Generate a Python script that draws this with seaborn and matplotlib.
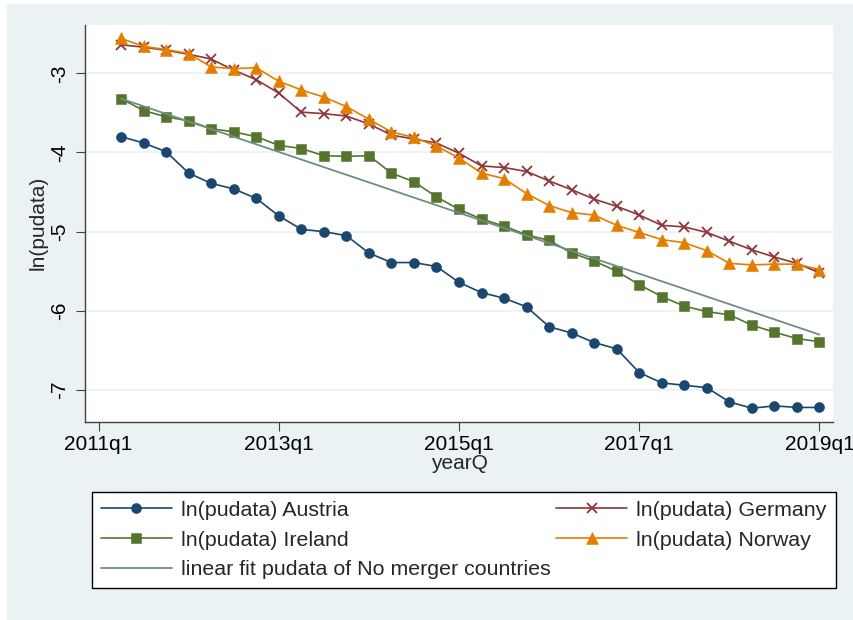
import numpy as np
import pandas as pd
import matplotlib
matplotlib.use("Agg")
import matplotlib.pyplot as plt
from matplotlib.patches import Rectangle
import seaborn as sns

# quarters 2011q2 .. 2019q1
years = [2011 + (q // 4) for q in range(1, 33)]
quarters = [f"{y}q{(q % 4) + 1}" for y, q in zip(years, range(1, 33))]
t = np.arange(1, 33)

austria = [-3.80, -3.88, -3.99, -4.26, -4.39, -4.46, -4.58, -4.80, -4.97, -5.00, -5.05,
           -5.27, -5.39, -5.39, -5.44, -5.64, -5.77, -5.84, -5.95, -6.20, -6.28, -6.40,
           -6.48, -6.78, -6.91, -6.94, -6.97, -7.15, -7.23, -7.20, -7.22, -7.22]
germany = [-2.64, -2.67, -2.71, -2.76, -2.82, -2.96, -3.08, -3.25, -3.49, -3.51, -3.54,
           -3.64, -3.78, -3.83, -3.88, -4.01, -4.17, -4.19, -4.24, -4.36, -4.47, -4.59,
           -4.68, -4.79, -4.92, -4.94, -5.01, -5.12, -5.23, -5.32, -5.40, -5.52]
ireland = [-3.32, -3.47, -3.55, -3.60, -3.70, -3.74, -3.80, -3.91, -3.95, -4.04, -4.05,
           -4.04, -4.26, -4.37, -4.56, -4.72, -4.84, -4.93, -5.04, -5.11, -5.27, -5.37,
           -5.50, -5.67, -5.82, -5.94, -6.01, -6.05, -6.18, -6.27, -6.35, -6.39]
norway = [-2.56, -2.66, -2.70, -2.75, -2.92, -2.94, -2.93, -3.10, -3.21, -3.30, -3.42,
          -3.58, -3.74, -3.81, -3.92, -4.07, -4.26, -4.33, -4.52, -4.67, -4.76, -4.79,
          -4.92, -5.01, -5.10, -5.14, -5.24, -5.40, -5.42, -5.41, -5.41, -5.48]

# linear fit of the no-merger group, endpoints
fit_t = [1, 32]
fit_y = [-3.32, -6.30]

xtick_pos = [0, 8, 16, 24, 32]
xtick_labels = ["2011q1", "2013q1", "2015q1", "2017q1", "2019q1"]
ytick_pos = [-3, -4, -5, -6, -7]

df = pd.DataFrame({"t": t, "quarter": quarters, "Austria": austria, "Germany": germany,
                   "Ireland": ireland, "Norway": norway})
df_fit = pd.DataFrame({"t": fit_t, "fit": fit_y})

sns.set_style("white")
plt.rcParams["font.family"] = ["Liberation Sans", "DejaVu Sans"]

bg = "#EAF2F3"
fig = plt.figure(figsize=(8.54, 6.2), dpi=100)
fig.patch.set_facecolor("white")
fig.patches.append(Rectangle((7 / 854, 0), 1, 1 - 4 / 620, transform=fig.transFigure,
                             facecolor=bg, edgecolor="none", zorder=-10))
ax = fig.add_axes([85 / 854, 1 - 421.7 / 620, (833 - 85) / 854, (421.7 - 25) / 620])
ax.set_facecolor("white")

series = [
    ("Austria", "#1A476F", "o", 7.2),
    ("Germany", "#90353B", "x", 7.0),
    ("Ireland", "#55752F", "s", 6.6),
    ("Norway", "#E37E00", "^", 8.0),
]
for name, col, mk, ms in series:
    sns.lineplot(data=df, x="t", y=name, ax=ax, color=col, marker=mk, markersize=ms,
                 linewidth=1.2, markeredgecolor=col, markeredgewidth=1.3 if mk == "x" else 0.4,
                 label=f"ln(pudata) {name}")
sns.lineplot(data=df_fit, x="t", y="fit", ax=ax, color="#6E8E84", linewidth=1.3,
             label="linear fit pudata of No merger countries")

ax.set_xlim(-0.6, 32.6)
ax.set_ylim(-7.40, -2.39)
ax.set_xticks(xtick_pos)
ax.set_xticklabels(xtick_labels)
ax.set_yticks(ytick_pos)
ax.set_yticklabels([str(v) for v in ytick_pos], rotation=90, va="center")
ax.yaxis.grid(True, color=bg, linewidth=1.2)
ax.xaxis.grid(False)
ax.set_axisbelow(True)
for s in ["top", "right"]:
    ax.spines[s].set_visible(False)
for s in ["left", "bottom"]:
    ax.spines[s].set_color("#404040")
    ax.spines[s].set_linewidth(1.0)
ax.tick_params(axis="both", direction="out", length=6.5, width=0.8, color="#404040",
               labelsize=15, labelcolor="black", left=True, bottom=True)
ax.tick_params(axis="x", pad=3)
ax.tick_params(axis="y", pad=5)
ax.set_xlabel("yearQ", fontsize=15, labelpad=0)
ax.set_ylabel("ln(pudata)", fontsize=15, labelpad=2)

h, l = ax.get_legend_handles_labels()
ax.get_legend().remove()
order = [0, 2, 4, 1, 3]
leg = fig.legend([h[i] for i in order], [l[i] for i in order], ncol=2,
                 loc="upper left", bbox_to_anchor=(92 / 854, 1 - 492 / 620),
                 fontsize=15.4, frameon=True, fancybox=False, framealpha=1,
                 edgecolor="black", handlelength=3.3, handletextpad=0.45,
                 columnspacing=0.25, labelspacing=0.5, borderpad=0.42, borderaxespad=0)
leg.get_frame().set_linewidth(1.0)

fig.savefig("out.png", dpi=100, facecolor=fig.get_facecolor())
